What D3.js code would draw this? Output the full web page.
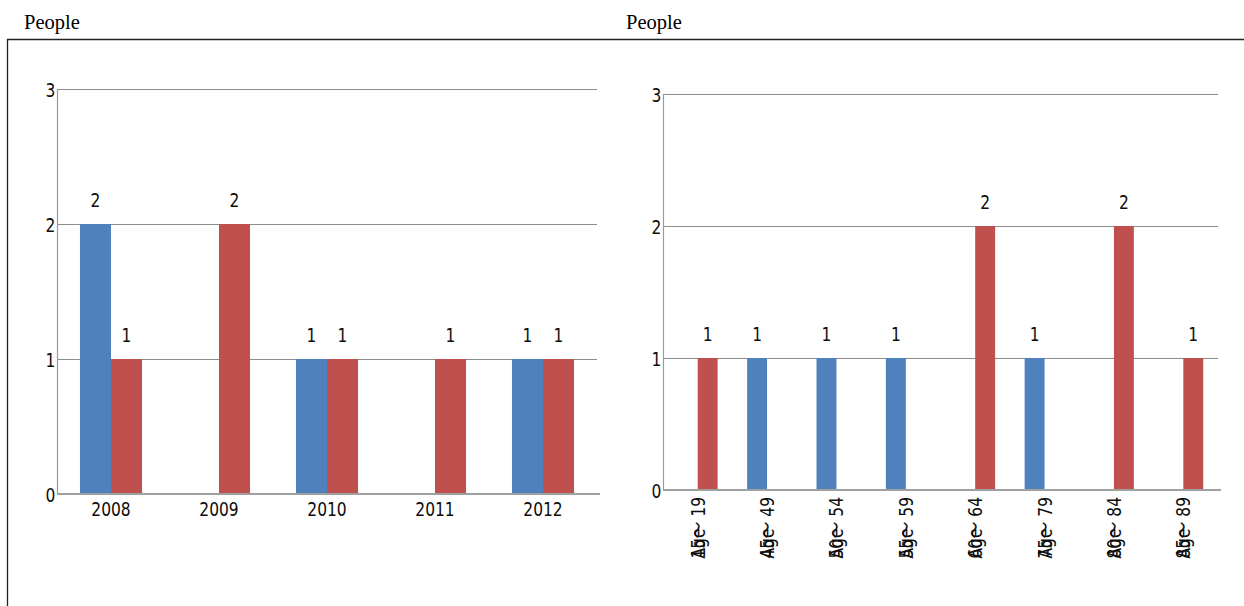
<!DOCTYPE html>
<html>
<head>
<meta charset="utf-8">
<script src="https://cdn.jsdelivr.net/npm/d3@7"></script>
<style>
  html, body { margin: 0; padding: 0; background: #fff; }
  svg { display: block; }
  .num { font-family: "DejaVu Sans Condensed", "DejaVu Sans", sans-serif; fill: #0d0d0d; }
  .wave { font-family: "Noto Sans CJK JP", sans-serif; }
  .title { font-family: "Liberation Serif", "Times New Roman", serif; font-size: 20.5px; fill: #000; }
</style>
</head>
<body>
<svg id="chart" width="1244" height="606"></svg>
<script>
// Counts by year
const years = ["2008", "2009", "2010", "2011", "2012"];
const yearBlue = [2, 0, 1, 0, 1];
const yearRed = [1, 2, 1, 1, 1];

// Counts by age group
const ageGroups = ["15～19", "45～49", "50～54", "55～59", "60～64", "75～79", "80～84", "85～89"];
const ageBlue = [0, 1, 1, 1, 0, 1, 0, 0];
const ageRed = [1, 0, 0, 0, 2, 0, 2, 1];

const yTicks = [0, 1, 2, 3];
const unitLabel = "People";
const ageUnit = "Age";

const seriesKeys = ["blue", "red"];
const colors = { blue: "#4f81bd", red: "#c0504d" };
const narrow = 0.86; // horizontal squeeze for the narrow label face

const svg = d3.select("#chart");

// Outer frame (top and left edges visible)
svg.append("path")
  .attr("d", "M7.5,606 L7.5,39.5 L1244,39.5")
  .attr("fill", "none")
  .attr("stroke", "#222")
  .attr("stroke-width", 1.3);

svg.append("text").attr("class", "title").attr("x", 24).attr("y", 29).text(unitLabel);
svg.append("text").attr("class", "title").attr("x", 626).attr("y", 29).text(unitLabel);

function drawPanel(opts) {
  const { cats, blue, red, left, right, top, bottom, rotated } = opts;
  const g = svg.append("g");

  const y = d3.scaleLinear().domain([0, 3]).range([bottom, top]);
  const x0 = d3.scaleBand().domain(cats).range([left, right]).padding(0);
  const x1 = d3.scaleBand().domain(seriesKeys).range([0, x0.bandwidth()])
    .paddingInner(0).paddingOuter(0.74);

  // Horizontal gridlines
  g.append("g").selectAll("line")
    .data(yTicks.filter(t => t > 0))
    .join("line")
    .attr("x1", left).attr("x2", right)
    .attr("y1", d => Math.round(y(d)) + 0.5).attr("y2", d => Math.round(y(d)) + 0.5)
    .attr("stroke", "#8c8c8c").attr("stroke-width", 1);

  // Y axis
  const yAxis = g.append("g")
    .attr("transform", `translate(${left},0)`)
    .call(d3.axisLeft(y).tickValues(yTicks).tickSize(0).tickPadding(2).tickFormat(d3.format("d")));
  yAxis.select(".domain").attr("stroke", "#9a9a9a").attr("stroke-width", 1.2);
  yAxis.selectAll("text").attr("class", "num")
    .style("font-size", "20px").attr("dy", "0.36em")
    .attr("transform", `scale(${narrow},1)`);

  // Bars
  const rows = cats.map((c, i) => ({ cat: c, values: [
    { key: "blue", v: blue[i] }, { key: "red", v: red[i] }
  ] }));
  const groups = g.append("g").selectAll("g")
    .data(rows).join("g")
    .attr("transform", d => `translate(${x0(d.cat)},0)`);

  groups.selectAll("rect")
    .data(d => d.values.filter(v => v.v > 0))
    .join("rect")
    .attr("x", d => x1(d.key))
    .attr("width", x1.bandwidth())
    .attr("y", d => y(d.v))
    .attr("height", d => y(0) - y(d.v))
    .attr("fill", d => colors[d.key]);

  groups.selectAll("text.val")
    .data(d => d.values.filter(v => v.v > 0))
    .join("text")
    .attr("class", "num val")
    .attr("transform", d => `translate(${x1(d.key) + x1.bandwidth() / 2},${y(d.v) - 17}) scale(${narrow},1)`)
    .attr("text-anchor", "middle")
    .style("font-size", "20px")
    .text(d => d.v);

  // X axis baseline
  g.append("line")
    .attr("x1", left).attr("x2", right + 3)
    .attr("y1", y(0)).attr("y2", y(0))
    .attr("stroke", "#a0a0a0").attr("stroke-width", 2);

  // Category labels
  const xl = g.append("g").selectAll("g")
    .data(cats).join("g");
  if (!rotated) {
    xl.append("text")
      .attr("class", "num")
      .attr("transform", d => `translate(${x0(d) + x0.bandwidth() / 2},${y(0) + 22}) scale(${narrow},1)`)
      .attr("text-anchor", "middle")
      .style("font-size", "20px")
      .text(d => d);
  } else {
    xl.attr("transform", d => `translate(${x0(d) + x0.bandwidth() / 2 + 7},${y(0) + 7}) rotate(-90) scale(${narrow},1)`);
    const lab = xl.append("text")
      .attr("class", "num")
      .attr("x", 0).attr("y", 0)
      .attr("text-anchor", "end")
      .style("font-size", "20px");
    lab.append("tspan").text(d => d.split("～")[0]);
    lab.append("tspan").attr("class", "wave").text("～");
    lab.append("tspan").text(d => " " + d.split("～")[1]);
    // unit text sharing the same start as the range label
    xl.each(function () {
      const t = d3.select(this).select("text");
      const len = t.node().getComputedTextLength();
      d3.select(this).append("text")
        .attr("class", "num")
        .attr("x", -len).attr("y", 0)
        .attr("text-anchor", "start")
        .style("font-size", "20px")
        .text(ageUnit);
    });
  }
}

drawPanel({ cats: years, blue: yearBlue, red: yearRed,
  left: 57, right: 597, top: 89, bottom: 494, rotated: false });
drawPanel({ cats: ageGroups, blue: ageBlue, red: ageRed,
  left: 663, right: 1218, top: 94, bottom: 490, rotated: true });
</script>
</body>
</html>
